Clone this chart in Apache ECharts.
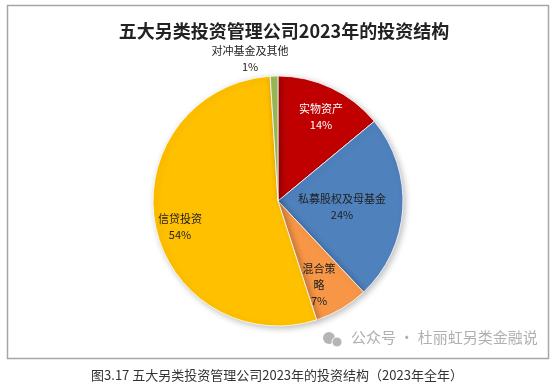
<!DOCTYPE html>
<html>
<head>
<meta charset="utf-8">
<script src="https://cdn.jsdelivr.net/npm/echarts@6/dist/echarts.min.js"></script>
<style>
html,body{margin:0;padding:0;background:#fff;}
#c{width:554px;height:386px;}
</style>
</head>
<body>
<div id="c"></div>
<script>
const categories = ['实物资产', '私募股权及母基金', '混合策略', '信贷投资', '对冲基金及其他'];
const values = [14, 24, 7, 54, 1];
const labelNames = ['实物资产', '私募股权及母基金', '混合策\n略', '信贷投资', '对冲基金及其他'];

const colors = ['#C00000', '#4F81BD', '#F79646', '#FFC000', '#9BBB59'];
const labelColors = ['#ffffff', '#222222', '#222222', '#222222', '#222222'];
// label anchor positions (label centres) in px
const labelPos = [[321, 117], [342, 207], [319, 285], [180, 227], [250, 59]];

const chart = echarts.init(document.getElementById('c'), null, {renderer: 'canvas'});
const font = '"Noto Sans CJK SC", "Microsoft YaHei", sans-serif';

chart.setOption({
  animation: false,
  backgroundColor: '#ffffff',
  title: {
    text: '五大另类投资管理公司2023年的投资结构',
    left: 279, top: 17, textAlign: 'center',
    textStyle: {fontFamily: font, fontSize: 18, fontWeight: 'bold', color: '#222'}
  },
  graphic: [
    {type: 'rect', shape: {x: 7.5, y: 5.5, width: 541, height: 353},
     style: {fill: 'none', stroke: '#a6a6a6', lineWidth: 1.5}, z: -1},
    {type: 'text', left: 'center', top: 369,
     style: {text: '图3.17 五大另类投资管理公司2023年的投资结构（2023年全年）', font: '13px ' + font, fill: '#333'}},
    {type: 'circle', shape: {cx: 329, cy: 338, r: 6}, style: {fill: '#b5b5b5'}},
    {type: 'circle', shape: {cx: 337, cy: 342, r: 5}, style: {fill: '#b5b5b5', stroke: '#fff', lineWidth: 1}},
    {type: 'text', x: 351, y: 330,
     style: {text: '公众号 · 杜丽虹另类金融说', font: '15px ' + font, fill: '#b0b0b0'}}
  ],
  series: [{
    type: 'pie',
    center: [278, 201],
    radius: [0, 125],
    startAngle: 90,
    clockwise: true,
    avoidLabelOverlap: false,
    itemStyle: {
      borderColor: '#ffffff', borderWidth: 0.8,
      shadowBlur: 6, shadowOffsetX: 2, shadowOffsetY: 2, shadowColor: 'rgba(0,0,0,0.25)'
    },
    label: {
      position: 'inside',
      fontFamily: font, fontSize: 11, lineHeight: 16, align: 'center'
    },
    labelLine: {show: false},
    labelLayout: function (p) {
      const pos = labelPos[p.dataIndex];
      return {x: pos[0], y: pos[1], align: 'center', verticalAlign: 'middle'};
    },
    data: categories.map((c, i) => ({
      name: c,
      value: values[i],
      itemStyle: {color: colors[i]},
      label: {
        color: labelColors[i],
        formatter: labelNames[i] + '\n{c}%'
      }
    }))
  }]
});
</script>
</body>
</html>
